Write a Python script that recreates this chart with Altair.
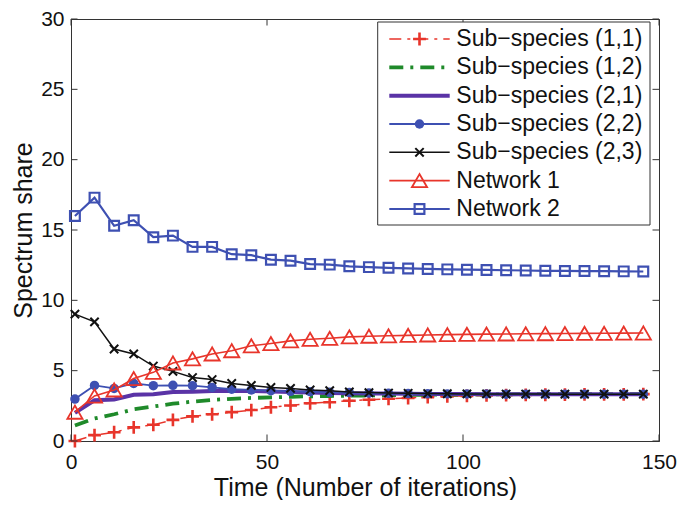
import altair as alt
import pandas as pd

FONT = "Liberation Sans"

# ---- data ----
iterations = list(range(1, 147, 5))  # 1, 6, ..., 146  (30 points)

sub_11 = [0.0, 0.42, 0.62, 0.97, 1.15, 1.50, 1.75, 1.90, 2.05, 2.20, 2.40, 2.52, 2.68, 2.76, 2.86,
          2.93, 3.00, 3.06, 3.12, 3.17, 3.21, 3.24, 3.26, 3.28, 3.29, 3.30, 3.31, 3.32, 3.32, 3.33]
sub_12 = [1.10, 1.60, 1.90, 2.25, 2.45, 2.65, 2.80, 2.92, 3.00, 3.06, 3.10, 3.14, 3.18, 3.20, 3.22,
          3.24, 3.26, 3.28, 3.29, 3.30, 3.31, 3.32, 3.32, 3.33, 3.33, 3.33, 3.33, 3.33, 3.33, 3.33]
sub_21 = [2.00, 2.90, 2.95, 3.28, 3.32, 3.48, 3.50, 3.55, 3.56, 3.55, 3.52, 3.49, 3.45, 3.42, 3.40,
          3.38, 3.37, 3.36, 3.35, 3.34, 3.34, 3.33, 3.33, 3.33, 3.33, 3.33, 3.33, 3.33, 3.33, 3.33]
sub_22 = [2.98, 3.95, 3.74, 4.09, 3.93, 3.96, 3.93, 3.81, 3.68, 3.63, 3.58, 3.53, 3.50, 3.46, 3.44,
          3.41, 3.39, 3.37, 3.36, 3.35, 3.34, 3.34, 3.33, 3.33, 3.33, 3.33, 3.33, 3.33, 3.33, 3.33]
sub_23 = [9.02, 8.47, 6.54, 6.19, 5.33, 4.95, 4.51, 4.37, 4.09, 3.95, 3.81, 3.74, 3.63, 3.58, 3.49,
          3.44, 3.41, 3.39, 3.37, 3.36, 3.35, 3.35, 3.34, 3.34, 3.34, 3.33, 3.33, 3.33, 3.33, 3.33]
network_1 = [2.05, 3.20, 3.63, 4.44, 4.88, 5.55, 5.84, 6.19, 6.42, 6.77, 6.93, 7.12, 7.23, 7.30, 7.40,
             7.45, 7.48, 7.51, 7.54, 7.56, 7.58, 7.60, 7.61, 7.62, 7.63, 7.64, 7.65, 7.66, 7.67, 7.68]
network_2 = [16.0, 17.3, 15.3, 15.7, 14.49, 14.6, 13.8, 13.8, 13.28, 13.21, 12.89, 12.82, 12.58, 12.54, 12.42,
             12.36, 12.31, 12.27, 12.23, 12.20, 12.18, 12.16, 12.14, 12.12, 12.10, 12.09, 12.08, 12.07, 12.06, 12.05]

series_names = ["Sub\u2212species (1,1)", "Sub\u2212species (1,2)", "Sub\u2212species (2,1)",
                "Sub\u2212species (2,2)", "Sub\u2212species (2,3)", "Network 1", "Network 2"]
series_values = [sub_11, sub_12, sub_21, sub_22, sub_23, network_1, network_2]

x_ticks = [0, 50, 100, 150]
y_ticks = [0, 5, 10, 15, 20, 25, 30]

# ---- styles ----
RED = "#e8352b"
GREEN = "#1f8a2a"
PURPLE = "#5a33a6"
BLUE = "#3e50b2"
BLACK = "#111111"
PLUS = "M-1,0L1,0M0,-1L0,1"
XMARK = "M-1,-1L1,1M-1,1L1,-1"

styles = [
    dict(color=RED, width=1.5, dash=[12, 6, 3, 6], shape=PLUS, filled=False, size=165, mwidth=2.6),
    dict(color=GREEN, width=3.8, dash=[14, 7, 3, 7], shape=None),
    dict(color=PURPLE, width=4, dash=None, shape=None),
    dict(color=BLUE, width=1.8, dash=None, shape="circle", filled=True, size=90, mwidth=1),
    dict(color=BLACK, width=1.5, dash=None, shape=XMARK, filled=False, size=70, mwidth=2),
    dict(color=RED, width=1.6, dash=None, shape="triangle-up", filled=False, size=230, mwidth=1.8),
    dict(color=BLUE, width=2.2, dash=None, shape="square", filled=False, size=95, mwidth=2.2),
]

rows = []
for name, vals in zip(series_names, series_values):
    for t, v in zip(iterations, vals):
        rows.append({"series": name, "t": t, "share": v})
df = pd.DataFrame(rows)

# layout: whole svg = 669 x 492 (fits inside the page margins)
PAD_L, PAD_T = 63, 11
W, H = 588, 422
PAD_R = 669 - PAD_L - W
PAD_B = 492 - PAD_T - H

xs = alt.Scale(domain=[0, 150], nice=False, zero=False)
ys = alt.Scale(domain=[0, 30], nice=False)

x_axis = alt.Axis(values=x_ticks, ticks=False, tickSize=0, grid=False, labelFlush=False,
                  labelFontSize=21, labelFont=FONT, labelColor=BLACK, labelPadding=10,
                  domainColor="#333333", titleFontSize=25, titleFont=FONT, titleFontWeight="normal",
                  titleColor=BLACK, titlePadding=3)
y_axis = alt.Axis(values=y_ticks, ticks=False, tickSize=0, grid=False, labelFlush=False,
                  labelFontSize=21, labelFont=FONT, labelColor=BLACK, labelPadding=7,
                  domainColor="#333333", titleFontSize=25, titleFont=FONT, titleFontWeight="normal",
                  titleColor=BLACK, titlePadding=4)


def X(field):
    return alt.X(f"{field}:Q", scale=xs, axis=x_axis, title="Time (Number of iterations)")


def Y(field):
    return alt.Y(f"{field}:Q", scale=ys, axis=y_axis, title="Spectrum share")


layers = []
base = alt.Chart(df)
for name, st in zip(series_names, styles):
    sub = base.transform_filter(alt.datum.series == name)
    lkw = dict(color=st["color"], strokeWidth=st["width"])
    if st["dash"]:
        lkw["strokeDash"] = st["dash"]
    layers.append(sub.mark_line(**lkw).encode(x=X("t"), y=Y("share")))
    if st["shape"]:
        pkw = dict(shape=st["shape"], filled=st["filled"], size=st["size"], color=st["color"],
                   strokeWidth=st["mwidth"], opacity=1)
        layers.append(sub.mark_point(**pkw).encode(x=X("t"), y=Y("share")))

# inward ticks (MATLAB style) on all four sides
TL = 6.5
xt = alt.Chart(pd.DataFrame({"xt": x_ticks}))
yt = alt.Chart(pd.DataFrame({"yt": y_ticks}))
layers.append(xt.mark_rule(color="#333333", strokeWidth=1).encode(x=X("xt"), y=alt.value(H), y2=alt.value(H - TL)))
layers.append(xt.mark_rule(color="#333333", strokeWidth=1).encode(x=X("xt"), y=alt.value(0), y2=alt.value(TL)))
layers.append(yt.mark_rule(color="#333333", strokeWidth=1).encode(y=Y("yt"), x=alt.value(0), x2=alt.value(TL)))
layers.append(yt.mark_rule(color="#333333", strokeWidth=1).encode(y=Y("yt"), x=alt.value(W), x2=alt.value(W - TL)))

# legend box (plot-area pixel coordinates)
LX0, LX1, LY0, LY1 = 306.7, 579, 3, 206
box = alt.Chart(pd.DataFrame({"k": [0]})).mark_rect(fill="white", stroke="#333333", strokeWidth=1).encode(
    x=alt.value(LX0), x2=alt.value(LX1), y=alt.value(LY0), y2=alt.value(LY1))
layers.append(box)

for i, (name, st) in enumerate(zip(series_names, styles)):
    yy = 20 + i * 28.33
    ld = alt.Chart(pd.DataFrame({"label": [name]}))
    rkw = dict(color=st["color"], strokeWidth=st["width"])
    if st["dash"]:
        rkw["strokeDash"] = st["dash"]
    layers.append(ld.mark_rule(**rkw).encode(x=alt.value(318.3), x2=alt.value(378.7), y=alt.value(yy)))
    if st["shape"]:
        layers.append(ld.mark_point(shape=st["shape"], filled=st["filled"], size=st["size"],
                                    color=st["color"], strokeWidth=st["mwidth"], opacity=1).encode(
            x=alt.value(348.5), y=alt.value(yy)))
    layers.append(ld.mark_text(align="left", baseline="middle", fontSize=23, font=FONT, color=BLACK).encode(
        x=alt.value(385.3), y=alt.value(yy), text="label:N"))

chart = alt.layer(*layers).properties(
    width=W, height=H,
    padding={"left": PAD_L, "top": PAD_T, "right": PAD_R, "bottom": PAD_B},
    autosize=alt.AutoSizeParams(type="none"),
    background="white",
).configure_view(stroke="#333333", strokeWidth=1)

chart.save("out.html", embed_options={"renderer": "svg", "actions": False})
